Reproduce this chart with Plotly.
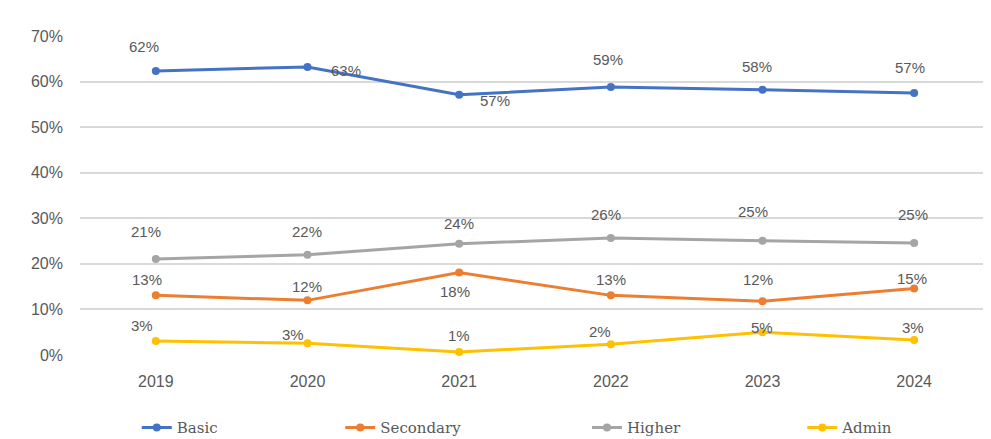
import plotly.graph_objects as go

years = [2019, 2020, 2021, 2022, 2023, 2024]
basic = [0.623, 0.632, 0.571, 0.588, 0.582, 0.575]
secondary = [0.131, 0.120, 0.181, 0.131, 0.118, 0.146]
higher = [0.211, 0.220, 0.244, 0.257, 0.251, 0.246]
admin = [0.031, 0.026, 0.007, 0.024, 0.050, 0.033]

series_names = ["Basic", "Secondary", "Higher", "Admin"]
series_values = [basic, secondary, higher, admin]
colors = ["#4472C4", "#ED7D31", "#A5A5A5", "#FFC000"]

# label offsets (pixels) per point: (dx, dy)
label_offsets = [
    [(-12, 25), (38, -4), (36, -6), (-3, 27), (-6, 23), (-4, 25)],
    [(-9, 16), (-1, 14), (-4, -19), (0, 16), (-5, 22), (-2, 10)],
    [(-10, 27), (-1, 23), (0, 20), (-5, 23), (-10, 29), (-1, 28)],
    [(-14, 15), (-15, 9), (0, 16), (-11, 13), (-1, 5), (-1, 13)],
]

# legend positions in container fraction
legend_x = [0.131, 0.338, 0.589, 0.808]

fig = go.Figure()
annotations = []
for i, (name, vals, col) in enumerate(zip(series_names, series_values, colors)):
    leg = "legend" if i == 0 else f"legend{i+1}"
    fig.add_trace(go.Scatter(
        x=years, y=vals, name=name, mode="lines+markers",
        line=dict(color=col, width=3),
        marker=dict(color=col, size=8),
        legend=leg,
    ))
    for j, (yr, v) in enumerate(zip(years, vals)):
        dx, dy = label_offsets[i][j]
        annotations.append(dict(
            x=yr, y=v, xref="x", yref="y", text=f"{round(v*100):d}%",
            showarrow=False, xshift=dx, yshift=dy,
            font=dict(family="Liberation Sans", size=15, color="#595959"),
        ))

layout_legends = {}
for i, lx in enumerate(legend_x):
    key = "legend" if i == 0 else f"legend{i+1}"
    layout_legends[key] = dict(
        x=lx, y=0.026, xref="container", yref="container",
        xanchor="left", yanchor="middle",
        orientation="h", bgcolor="rgba(0,0,0,0)",
        font=dict(family="DejaVu Serif", size=15, color="#595959"),
    )

fig.update_layout(
    width=983, height=431,
    margin=dict(l=72, r=1, t=27, b=83, autoexpand=False),
    plot_bgcolor="white", paper_bgcolor="white",
    showlegend=True,
    annotations=annotations,
    **layout_legends,
)
fig.update_xaxes(
    type="linear", range=[2018.5, 2024.5], tickvals=years,
    ticktext=[str(y) for y in years], automargin=False,
    showgrid=False, showline=False, zeroline=False,
    ticks="", ticklabelstandoff=14,
    tickfont=dict(family="Liberation Sans", size=16, color="#595959"),
)
fig.update_yaxes(
    range=[-0.002, 0.702], dtick=0.1, tick0=0, tickformat=".0%",
    showgrid=True, gridcolor="#D9D9D9", gridwidth=1.5, automargin=False,
    zeroline=False, showline=False, ticks="", ticklabelstandoff=16,
    tickfont=dict(family="Liberation Sans", size=16, color="#595959"),
)

fig.write_html("out.html")
